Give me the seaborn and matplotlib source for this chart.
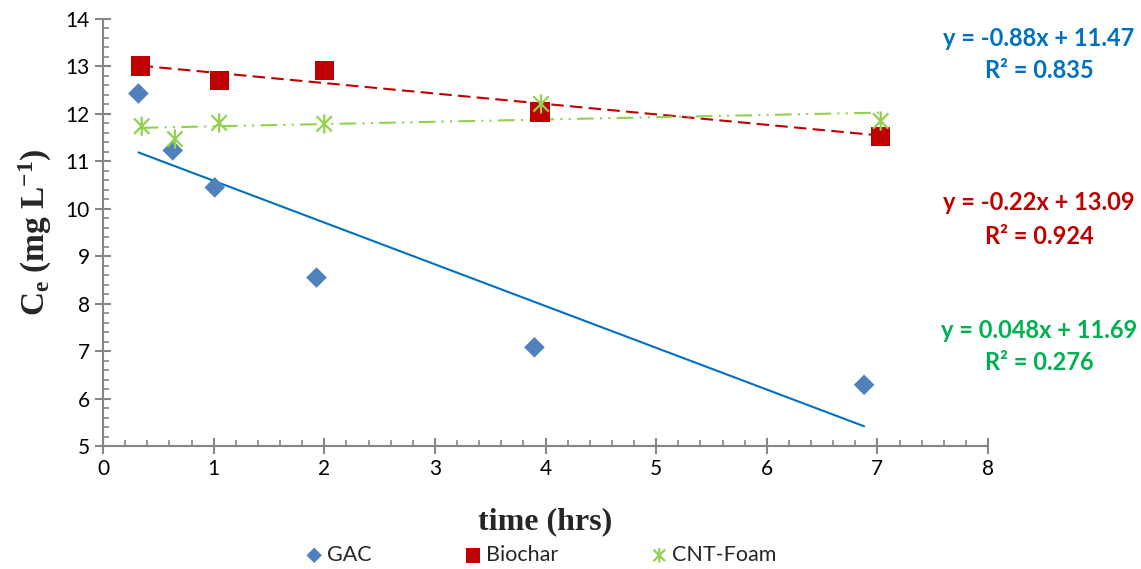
import numpy as np
import pandas as pd
import matplotlib
matplotlib.use("Agg")
import matplotlib.pyplot as plt
from matplotlib.path import Path
from matplotlib.ticker import MultipleLocator
import seaborn as sns

# ---- data ----
gac_x = [0.32, 0.63, 1.01, 1.93, 3.90, 6.88]
gac_y = [12.43, 11.23, 10.45, 8.55, 7.08, 6.29]
bio_x = [0.34, 1.05, 2.00, 3.95, 7.03]
bio_y = [13.01, 12.71, 12.91, 12.04, 11.53]
cnt_x = [0.35, 0.65, 1.05, 2.00, 3.96, 7.03]
cnt_y = [11.74, 11.47, 11.81, 11.79, 12.21, 11.85]

series = ["GAC", "Biochar", "CNT-Foam"]
slopes = [-0.88, -0.22, 0.048]
intercepts = [11.47, 13.09, 11.69]
r2_vals = ["0.835", "0.924", "0.276"]
eq_texts = ["y = -0.88x + 11.47", "y = -0.22x + 13.09", "y = 0.048x + 11.69"]

x_ticks = [0, 1, 2, 3, 4, 5, 6, 7, 8]
y_ticks = [5, 6, 7, 8, 9, 10, 11, 12, 13, 14]

# ---- style ----
sns.set_style("white")
plt.rcParams["font.family"] = ["Lato", "DejaVu Sans"]
plt.rcParams["mathtext.fontset"] = "custom"
plt.rcParams["mathtext.rm"] = "Liberation Serif"
plt.rcParams["mathtext.bf"] = "Liberation Serif:bold"
plt.rcParams["mathtext.it"] = "Liberation Serif:italic"

marker_colors = ["#4F81BD", "#C00000", "#92D050"]
line_colors = ["#0070C0", "#C00000", "#92D050"]
text_colors = ["#0070C0", "#C00000", "#00B050"]

star = Path([(0, -1), (0, 1), (-0.8, -0.8), (0.8, 0.8), (-0.8, 0.8), (0.8, -0.8)],
            [Path.MOVETO, Path.LINETO, Path.MOVETO, Path.LINETO, Path.MOVETO, Path.LINETO])

fig = plt.figure(figsize=(11.41, 5.69), dpi=100)
ax = fig.add_axes([103 / 1141, 1 - 446 / 569, (988 - 103) / 1141, (446 - 19) / 569])

xs = [gac_x, bio_x, cnt_x]
ys = [gac_y, bio_y, cnt_y]
linestyles = ["-", (0, (6, 3)), (0, (8, 3, 1, 3, 1, 3))]

# trendlines
for i in range(3):
    tx = np.array([min(xs[i]), max(xs[i])])
    ty = slopes[i] * tx + intercepts[i]
    df_t = pd.DataFrame({"x": tx, "y": ty})
    sns.lineplot(data=df_t, x="x", y="y", ax=ax, color=line_colors[i],
                 linewidth=1.5, linestyle=linestyles[i], legend=False, zorder=2)

# markers
sns.scatterplot(x=gac_x, y=gac_y, ax=ax, marker="D", s=110, color=marker_colors[0],
                edgecolor="none", label="GAC", zorder=3)
sns.scatterplot(x=bio_x, y=bio_y, ax=ax, marker="s", s=190, color=marker_colors[1],
                edgecolor="none", label="Biochar", zorder=3)
sns.scatterplot(x=cnt_x, y=cnt_y, ax=ax, marker=star, s=190, facecolor="none",
                edgecolor=marker_colors[2], linewidth=1.6, label="CNT-Foam", zorder=4)

ax.set_xlim(0, 8)
ax.set_ylim(5, 14)
ax.set_xticks(x_ticks)
ax.set_yticks(y_ticks)
ax.xaxis.set_minor_locator(MultipleLocator(0.2))
ax.yaxis.set_minor_locator(MultipleLocator(0.2))

for s in ["top", "right"]:
    ax.spines[s].set_visible(False)
for s in ["left", "bottom"]:
    ax.spines[s].set_color("#868686")
    ax.spines[s].set_linewidth(1.5)

ax.tick_params(which="major", direction="inout", length=11, width=1.5, color="#868686",
               labelsize=15, labelcolor="black", pad=4)
ax.tick_params(which="minor", direction="in", length=4.5, width=1.2, color="#868686")
ax.tick_params(axis="x", which="both", bottom=True)
ax.tick_params(axis="y", which="both", left=True)

ax.set_xlabel("time (hrs)", family="Liberation Serif", fontweight="bold", fontsize=23, labelpad=20)
ax.set_ylabel(r"$\mathbf{C_e\ (mg\ L^{-1})}$", fontsize=24, labelpad=8)

# equations
eq_y = [38, 203, 330]
for i in range(3):
    fig.text(1039 / 1141, 1 - eq_y[i] / 569, eq_texts[i], ha="center", va="center",
             color=text_colors[i], fontsize=17, fontweight="bold")
    fig.text(1039 / 1141, 1 - (eq_y[i] + 33) / 569, "R\u00b2 = " + r2_vals[i], ha="center",
             va="center", color=text_colors[i], fontsize=17, fontweight="bold")

handles, labels = ax.get_legend_handles_labels()
if ax.get_legend() is not None:
    ax.get_legend().remove()
fig.legend(handles, labels, loc="center", bbox_to_anchor=(540 / 1141, 1 - 555 / 569), ncol=3,
           frameon=False, fontsize=15.5, handletextpad=0.1, columnspacing=4.2, markerscale=0.75,
           handlelength=1.0)

fig.savefig("out.png", dpi=100)
